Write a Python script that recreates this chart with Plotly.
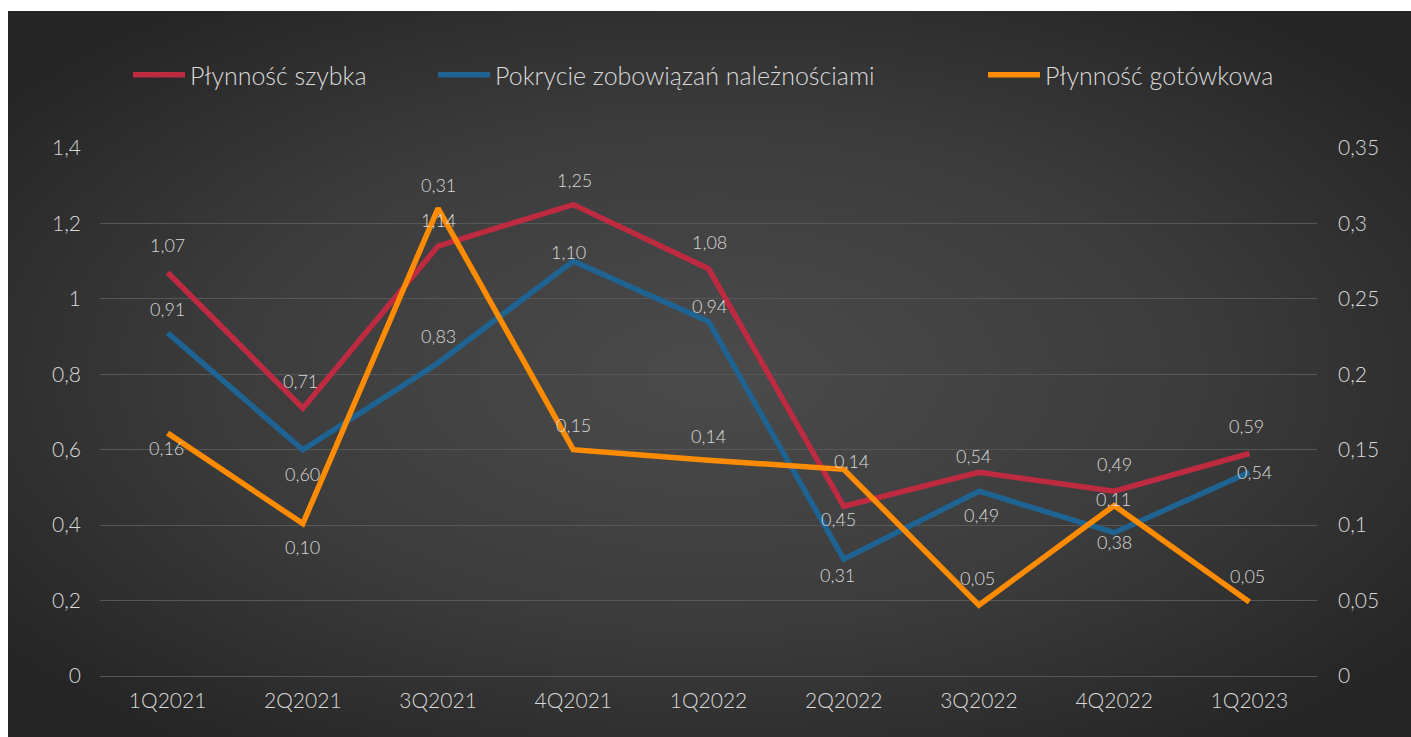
import base64
import plotly.graph_objects as go

# Quarterly liquidity ratios
quarters = ["1Q2021", "2Q2021", "3Q2021", "4Q2021", "1Q2022",
            "2Q2022", "3Q2022", "4Q2022", "1Q2023"]
plynnosc_szybka = [1.07, 0.71, 1.14, 1.25, 1.08, 0.45, 0.54, 0.49, 0.59]
pokrycie_zobowiazan = [0.91, 0.60, 0.83, 1.10, 0.94, 0.31, 0.49, 0.38, 0.54]
plynnosc_gotowkowa = [0.161, 0.101, 0.310, 0.150, 0.143, 0.137, 0.047, 0.113, 0.049]

series_names = ["Płynność szybka", "Pokrycie zobowiązań należnościami", "Płynność gotówkowa"]

RED = "#BE2A40"
BLUE = "#1E6391"
ORANGE = "#FF8C00"
TEXT = "#D9D9D9"
GRID = "#575757"
FONT = "Lato"
WEIGHT = 300

W, H = 1411, 737
L, R, T, B = 100, 94, 148, 61
PW, PH = W - L - R, H - T - B


def px_x(px):
    return (px - L) / PW


def px_y(py):
    return (H - B - py) / PH


def fmt(v):
    return f"{v:.2f}".replace(".", ",")


def font(size):
    return dict(family=FONT, size=size, color=TEXT, weight=WEIGHT)


fig = go.Figure()
fig.add_trace(go.Scatter(x=quarters, y=plynnosc_szybka, name=series_names[0],
                         mode="lines", line=dict(color=RED, width=5.5),
                         legend="legend"))
fig.add_trace(go.Scatter(x=quarters, y=pokrycie_zobowiazan, name=series_names[1],
                         mode="lines", line=dict(color=BLUE, width=5.5),
                         legend="legend2"))
fig.add_trace(go.Scatter(x=quarters, y=plynnosc_gotowkowa, name=series_names[2],
                         mode="lines", line=dict(color=ORANGE, width=5.5),
                         yaxis="y2", legend="legend3"))

# data-label offsets (x, y) in pixels for each series
red_off = [(0, 27), (-2, 27), (0, 26), (1, 25), (1, 27), (-5, -13), (-5, 16), (0, 27), (-3, 27)]
blue_off = [(0, 24), (0, -24), (0, 27), (-5, 9), (1, 15), (-6, -16), (3, -24), (0, -9), (5, 0)]
orange_off = [(-1, -15), (0, -23), (0, 23), (0, 25), (0, 24), (8, 8), (-1, 27), (-1, 7), (-2, 26)]

annotations = []
for vals, offs, yref in [(plynnosc_szybka, red_off, "y"),
                         (pokrycie_zobowiazan, blue_off, "y"),
                         (plynnosc_gotowkowa, orange_off, "y2")]:
    for q, v, (dx, dy) in zip(quarters, vals, offs):
        annotations.append(dict(x=q, y=v, xref="x", yref=yref, text=fmt(v),
                                showarrow=False, xshift=dx, yshift=dy,
                                font=font(18)))

# radial-gradient backdrop
svg = (f'<svg xmlns="http://www.w3.org/2000/svg" width="1403" height="726" '
       f'viewBox="0 0 1403 726" preserveAspectRatio="none">'
       f'<defs><radialGradient id="g" cx="0.5" cy="0.5" r="0.62">'
       f'<stop offset="0" stop-color="#4b4b4b"/>'
       f'<stop offset="0.55" stop-color="#3c3c3c"/>'
       f'<stop offset="1" stop-color="#262626"/></radialGradient></defs>'
       f'<rect width="1403" height="726" fill="url(#g)"/></svg>')
svg_uri = "data:image/svg+xml;base64," + base64.b64encode(svg.encode()).decode()

x0, x1, y0, y1 = 8, 1411, 11, 737
images = [dict(source=svg_uri, xref="paper", yref="paper",
               x=px_x(x0), y=px_y(y0), sizex=px_x(x1) - px_x(x0),
               sizey=px_y(y0) - px_y(y1), xanchor="left", yanchor="top",
               sizing="stretch", layer="below")]

legend_common = dict(orientation="h", yanchor="middle", y=px_y(75), xanchor="left",
                     bgcolor="rgba(0,0,0,0)", borderwidth=0, itemwidth=52,
                     font=font(25))

fig.update_layout(
    width=W, height=H,
    margin=dict(l=L, r=R, t=T, b=B, pad=0),
    paper_bgcolor="white",
    plot_bgcolor="rgba(0,0,0,0)",
    separators=", ",
    showlegend=True,
    legend=dict(x=px_x(128), **legend_common),
    legend2=dict(x=px_x(433), **legend_common),
    legend3=dict(x=px_x(983), **legend_common),
    images=images,
    annotations=annotations,
    xaxis=dict(type="category", range=[-0.5, 8.5], showgrid=False, zeroline=False,
               showline=False, ticks="", ticklabelstandoff=10,
               tickfont=font(21)),
    yaxis=dict(range=[0, 1.4], dtick=0.2, tick0=0, showgrid=True, gridcolor=GRID,
               gridwidth=1, zeroline=True, zerolinecolor=GRID, zerolinewidth=1,
               showline=False, ticks="", ticklabelstandoff=18,
               tickfont=font(21)),
    yaxis2=dict(range=[0, 0.35], dtick=0.05, tick0=0, overlaying="y", side="right",
                showgrid=False, zeroline=False, showline=False, ticks="",
                ticklabelstandoff=20,
                tickfont=font(21)),
)

fig.write_html("out.html")
